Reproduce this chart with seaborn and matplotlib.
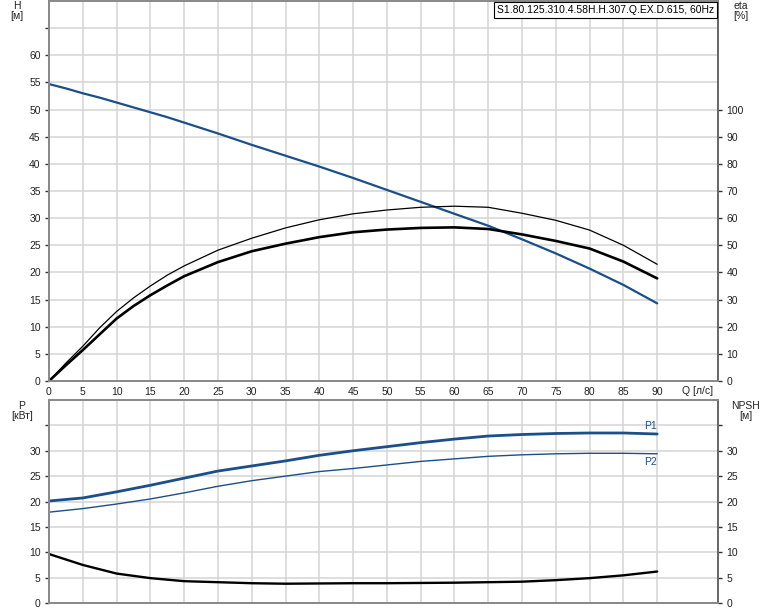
import matplotlib
matplotlib.use("Agg")
import matplotlib.pyplot as plt
import seaborn as sns
import pandas as pd

# ---- data ----
q_top = [0, 2.5, 5, 7.5, 10, 12.5, 15, 17.5, 20, 25, 30, 35, 40, 45, 50, 55, 60, 65, 70, 75, 80, 85, 90]
head = [54.7, 53.9, 53.0, 52.2, 51.3, 50.4, 49.5, 48.6, 47.6, 45.6, 43.5, 41.5, 39.5, 37.4, 35.2,
        33.0, 30.8, 28.6, 26.1, 23.5, 20.7, 17.7, 14.3]
eta_thin = [0, 6.6, 12.8, 19.6, 25.6, 30.6, 35, 39, 42.4, 48.2, 52.6, 56.4, 59.4, 61.6, 63,
            64, 64.4, 64, 61.8, 59.2, 55.6, 50, 43]
eta_thick = [0, 5.8, 11.4, 17.2, 23, 27.6, 31.6, 35.2, 38.6, 43.8, 47.8, 50.6, 53, 54.8, 55.8,
             56.4, 56.6, 56, 54, 51.6, 48.8, 44, 37.8]

q_bot = [0, 5, 10, 15, 20, 25, 30, 35, 40, 45, 50, 55, 60, 65, 70, 75, 80, 85, 90]
p1 = [20.1, 20.7, 21.9, 23.2, 24.6, 26.0, 27.0, 28.0, 29.1, 30.0, 30.8, 31.6,
      32.3, 32.9, 33.2, 33.4, 33.5, 33.5, 33.3]
p2 = [17.9, 18.6, 19.5, 20.5, 21.7, 23.0, 24.1, 25.0, 25.9, 26.5, 27.2, 27.9,
      28.4, 28.9, 29.2, 29.4, 29.5, 29.5, 29.4]
npsh = [9.65, 7.5, 5.8, 4.9, 4.3, 4.1, 3.9, 3.8, 3.85, 3.9, 3.9, 3.95, 4.0,
        4.1, 4.2, 4.5, 4.9, 5.45, 6.2]

x_ticks = list(range(0, 95, 5))
h_ticks = list(range(0, 65, 5))
eta_ticks = list(range(0, 110, 10))
p_ticks = list(range(0, 40, 5))
p_labels = [str(v) if v <= 30 else "" for v in p_ticks]

title_text = "S1.80.125.310.4.58H.H.307.Q.EX.D.615, 60Hz"

# ---- style ----
sns.set_style("white")
plt.rcParams["font.family"] = ["Liberation Sans", "DejaVu Sans"]
FS = 7.5
BLUE = "#1b4f8a"
SPINE = "#8a8a8a"
GRID = "#d4d4d4"
TXT = "#222222"

W, H = 774, 611
fig = plt.figure(figsize=(W / 100, H / 100), dpi=100)

def frac(x0, y0, x1, y1):
    return [x0 / W, 1 - y1 / H, (x1 - x0) / W, (y1 - y0) / H]

ax1 = fig.add_axes(frac(49, 1, 718, 381))
ax2 = fig.add_axes(frac(49, 400, 718, 603))

df_top = pd.DataFrame({"Q": q_top, "H": head, "eta1": eta_thin, "eta2": eta_thick})
df_bot = pd.DataFrame({"Q": q_bot, "P1": p1, "P2": p2, "NPSH": npsh})

XMAX = 99

def style_axes(ax):
    ax.set_xlim(0, XMAX)
    ax.set_xticks(x_ticks)
    ax.grid(True, color=GRID, linewidth=1.1)
    ax.set_axisbelow(True)
    for s in ax.spines.values():
        s.set_color(SPINE)
        s.set_linewidth(1.3)
    ax.set_xlabel("")
    ax.set_ylabel("")

# top panel
sns.lineplot(data=df_top, x="Q", y="H", ax=ax1, color=BLUE, linewidth=1.6)
style_axes(ax1)
ax1.set_ylim(0, 70)
ax1.set_yticks(h_ticks + [65])
ax1.set_yticklabels([str(v) for v in h_ticks] + [""])
ax1.tick_params(axis="y", length=3, width=1, color="#333333", pad=3,
                labelsize=FS, labelcolor=TXT, left=True)
ax1.tick_params(axis="x", length=0, pad=4, labelsize=FS, labelcolor=TXT)
ax1.yaxis.get_major_ticks()[-1].tick1line.set_visible(False)

ax1r = ax1.twinx()
sns.lineplot(data=df_top, x="Q", y="eta1", ax=ax1r, color="black", linewidth=0.9)
sns.lineplot(data=df_top, x="Q", y="eta2", ax=ax1r, color="black", linewidth=1.9)
ax1r.set_ylim(0, 140)
ax1r.set_xlim(0, XMAX)
ax1r.set_yticks(eta_ticks)
ax1r.tick_params(axis="y", length=3, width=1, color="#333333", pad=3,
                 labelsize=FS, labelcolor=TXT, right=True)
ax1r.set_ylabel("")
ax1r.grid(False)
for s in ax1r.spines.values():
    s.set_color(SPINE)
    s.set_linewidth(1.3)
ax1r.spines["right"].set_color("#666666")

# bottom panel
sns.lineplot(data=df_bot, x="Q", y="P1", ax=ax2, color=BLUE, linewidth=2.0)
sns.lineplot(data=df_bot, x="Q", y="P2", ax=ax2, color=BLUE, linewidth=1.0)
style_axes(ax2)
ax2.set_ylim(0, 40)
ax2.set_yticks(p_ticks)
ax2.set_yticklabels(p_labels)
ax2.set_xticklabels([])
ax2.tick_params(axis="y", length=3, width=1, color="#333333", pad=3,
                labelsize=FS, labelcolor=TXT, left=True)
ax2.tick_params(axis="x", length=0)

ax2r = ax2.twinx()
sns.lineplot(data=df_bot, x="Q", y="NPSH", ax=ax2r, color="black", linewidth=1.7)
ax2r.set_ylim(0, 40)
ax2r.set_xlim(0, XMAX)
ax2r.set_yticks(p_ticks)
ax2r.set_yticklabels(p_labels)
ax2r.tick_params(axis="y", length=3, width=1, color="#333333", pad=3,
                 labelsize=FS, labelcolor=TXT, right=True)
ax2r.set_ylabel("")
ax2r.grid(False)
for s in ax2r.spines.values():
    s.set_color(SPINE)
    s.set_linewidth(1.3)
ax2r.spines["right"].set_color("#666666")

# P1 / P2 labels at the end of the curves
ax2.text(q_bot[-1], p1[-1] + 0.6, "P1", color=BLUE, fontsize=FS, ha="right", va="bottom")
ax2.text(q_bot[-1], p2[-1] - 0.6, "P2", color=BLUE, fontsize=FS, ha="right", va="top")

# axis titles
fig.text(17 / W, 1 - 11 / H, "H\n[м]", fontsize=FS, color=TXT, ha="center", va="center",
         linespacing=1.1)
fig.text(741 / W, 1 - 11 / H, "eta\n[%]", fontsize=FS, color=TXT, ha="center", va="center",
         linespacing=1.1)
fig.text(22 / W, 1 - 411 / H, "P\n[кВт]", fontsize=FS, color=TXT, ha="center", va="center",
         linespacing=1.1)
fig.text(746 / W, 1 - 411 / H, "NPSH\n[м]", fontsize=FS, color=TXT, ha="center", va="center",
         linespacing=1.1)
fig.text(713 / W, 1 - 391 / H, "Q [л/с]", fontsize=FS, color=TXT, ha="right", va="center")

# title box
fig.text(714 / W, 1 - 10 / H, title_text, fontsize=FS, color="black", ha="right", va="center",
         bbox=dict(boxstyle="square,pad=0.25", facecolor="white", edgecolor="black",
                   linewidth=0.8))

fig.savefig("out.png", dpi=100)
